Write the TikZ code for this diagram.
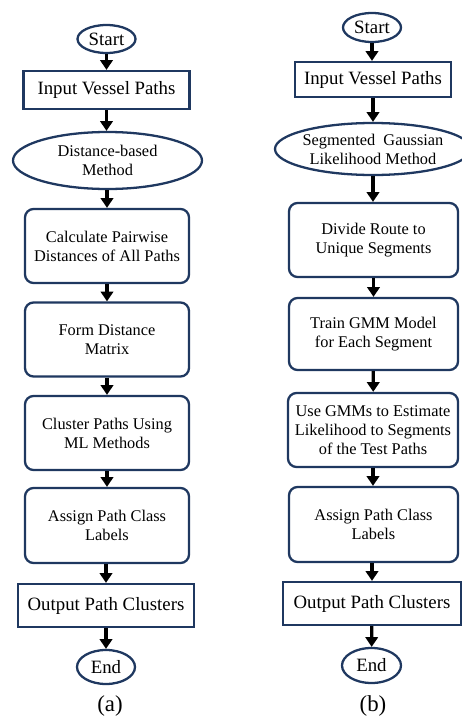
\documentclass[tikz,border=0pt]{standalone}
\usepackage{fontspec}
\setmainfont{Liberation Serif}
\usepackage{tikz}
\usetikzlibrary{shapes.geometric, arrows.meta}
\definecolor{edgeblue}{RGB}{31,56,96}

\begin{document}
\begin{tikzpicture}[
    big/.style={font=\fontsize{10.7}{12.8}\selectfont},
    small/.style={font=\fontsize{9.3}{10.8}\selectfont},
    term/.style={draw=edgeblue, line width=1.3pt, ellipse, inner sep=0pt, big},
    io/.style={draw=edgeblue, line width=1.3pt, rectangle, inner sep=0pt, big},
    oval/.style={draw=edgeblue, line width=1.3pt, ellipse, inner xsep=-6pt, inner ysep=-3pt, align=center, small},
    proc/.style={draw=edgeblue, line width=1.3pt, rectangle, rounded corners=0.17cm, inner sep=0pt, align=center, small},
    arr/.style={line width=1.9pt, -{Triangle[width=7pt,length=5.5pt]}}
  ]
  \useasboundingbox (0,0) rectangle (9.24,-14.4);

        % (a)
        \node[term, minimum width=1.16cm, minimum height=0.56cm] (start_a) at (2.13,-0.78) {Start};
        \node[io, minimum width=3.32cm, minimum height=0.76cm] (input_a) at (2.13,-1.80) {Input Vessel Paths};
        \node[oval, minimum width=3.78cm, minimum height=1.14cm] (method_a) at (2.15,-3.21) {Distance-based\\Method};
        \node[proc, minimum width=3.28cm, minimum height=1.48cm] (dist_a) at (2.14,-4.92) {Calculate Pairwise\\Distances of All Paths};
        \node[proc, minimum width=3.28cm, minimum height=1.48cm] (matrix_a) at (2.14,-6.79) {Form Distance\\Matrix};
        \node[proc, minimum width=3.28cm, minimum height=1.48cm] (cluster_a) at (2.14,-8.66) {Cluster Paths Using\\ML Methods};
        \node[proc, minimum width=3.28cm, minimum height=1.50cm] (assign_a) at (2.14,-10.51) {Assign Path Class\\Labels};
        \node[io, minimum width=3.52cm, minimum height=0.86cm] (output_a) at (2.12,-12.11) {Output Path Clusters};
        \node[term, minimum width=1.16cm, minimum height=0.68cm] (end_a) at (2.12,-13.34) {End};
        \node[font=\fontsize{13}{15}\selectfont] (cap_a) at (2.2,-14.12) {(a)};

        \draw[arr] (start_a) -- (input_a);
        \draw[arr] (input_a) -- (input_a|-method_a.north);
        \draw[arr] (method_a.south-|dist_a) -- (dist_a);
        \draw[arr] (dist_a) -- (matrix_a);
        \draw[arr] (matrix_a) -- (cluster_a);
        \draw[arr] (cluster_a) -- (assign_a);
        \draw[arr] (assign_a.south-|output_a) -- (output_a);
        \draw[arr] (output_a) -- (end_a);

        % (b)
        \node[term, minimum width=1.16cm, minimum height=0.58cm] (start_b) at (7.44,-0.55) {Start};
        \node[io, minimum width=3.12cm, minimum height=0.70cm] (input_b) at (7.46,-1.59) {Input Vessel Paths};
        \node[oval, minimum width=3.92cm, minimum height=1.04cm] (method_b) at (7.46,-2.98) {Segmented\ \ Gaussian\\Likelihood Method};
        \node[proc, minimum width=3.38cm, minimum height=1.48cm] (divide_b) at (7.47,-4.80) {Divide Route to\\Unique Segments};
        \node[proc, minimum width=3.38cm, minimum height=1.44cm] (train_b) at (7.47,-6.68) {Train GMM Model\\for Each Segment};
        \node[proc, minimum width=3.40cm, minimum height=1.48cm] (estimate_b) at (7.46,-8.60) {Use GMMs to Estimate\\Likelihood to Segments\\of the Test Paths};
        \node[proc, minimum width=3.38cm, minimum height=1.50cm] (assign_b) at (7.47,-10.49) {Assign Path Class\\Labels};
        \node[io, minimum width=3.56cm, minimum height=0.86cm] (output_b) at (7.44,-12.07) {Output Path Clusters};
        \node[term, minimum width=1.18cm, minimum height=0.70cm] (end_b) at (7.43,-13.31) {End};
        \node[font=\fontsize{13}{15}\selectfont] (cap_b) at (7.46,-14.12) {(b)};

        \draw[arr] (start_b) -- (start_b|-input_b.north);
        \draw[arr] (input_b) -- (method_b);
        \draw[arr] (method_b) -- (method_b|-divide_b.north);
        \draw[arr] (divide_b) -- (train_b);
        \draw[arr] (train_b) -- (estimate_b);
        \draw[arr] (estimate_b) -- (estimate_b|-assign_b.north);
        \draw[arr] (assign_b.south-|output_b) -- (output_b);
        \draw[arr] (output_b) -- (end_b);
      \end{tikzpicture}
\end{document}
